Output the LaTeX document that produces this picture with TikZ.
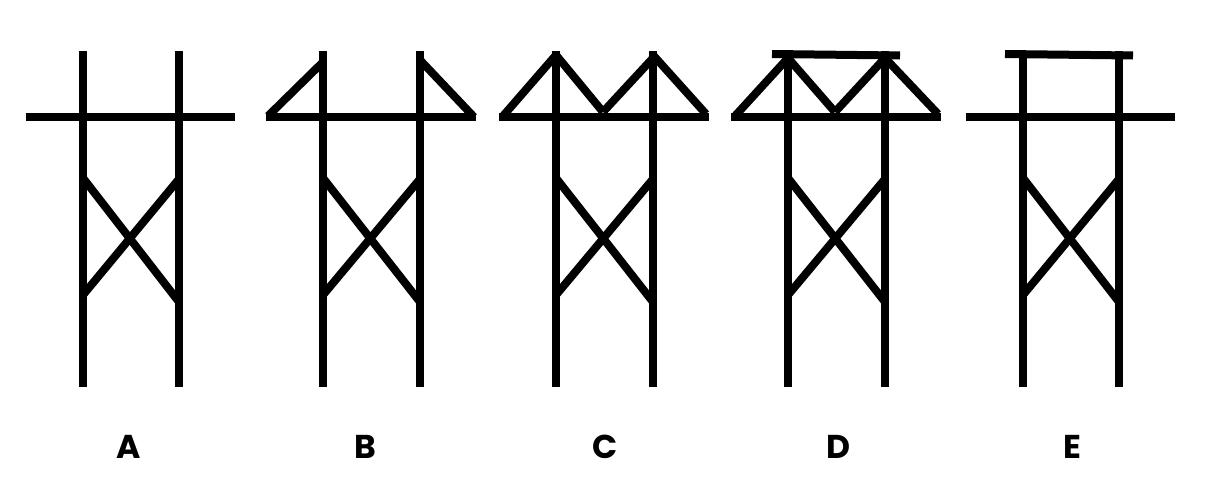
\documentclass[tikz,border=0pt]{standalone}
\usepackage{fontspec}
\setmainfont{Poppins}
\tikzset{
  beam/.style={line width=8pt,black,line cap=butt,line join=miter},
  brace/.style={line width=8pt,black,line cap=butt},
  toplabel/.style={font=\bfseries\fontsize{33}{33}\selectfont,inner sep=0pt,anchor=base}
}
\newcommand{\towerbase}[3]{%
  \draw[beam] (#1,51) -- (#1,387);
  \draw[beam] (#2,51) -- (#2,387);
  \draw[brace] (#1,178) -- (#2,302);
  \draw[brace] (#1,295) -- (#2,179);
  \draw[beam] (#1-57.5,117) -- (#2+55.5,117);
}
\begin{document}
\begin{tikzpicture}[x=1pt,y=-1pt]
\useasboundingbox (0,0) rectangle (1208,477);
\towerbase{83}{179}{A}
\towerbase{323}{420}{B}
\towerbase{556}{653}{C}
\towerbase{788}{885}{D}
\towerbase{1023}{1119}{E}
% B
\draw[brace] (268,116) -- (323,62);
\draw[brace] (420,60) -- (474,117);
% C
\draw[brace] (503,116) -- (556,55);
\draw[brace] (556,55) -- (603,112);
\draw[brace] (603,112) -- (653,58);
\draw[brace] (653,55) -- (706,114);
% D
\draw[brace] (735,116) -- (788,58);
\draw[brace] (788,58) -- (835,112);
\draw[brace] (835,112) -- (885,58);
\draw[brace] (885,58) -- (938,114);
\draw[beam] (772,54) -- (900,55.5);
% E
\draw[beam] (1005,54) -- (1133,55.5);
% labels
\node[toplabel] (la) at (128.5,458.5) {A};
\node[toplabel] (lb) at (365.5,458.5) {B};
\node[toplabel] (lc) at (605,458.5) {C};
\node[toplabel] (ld) at (838,458.5) {D};
\node[toplabel] (le) at (1072,458.5) {E};
\end{tikzpicture}
\end{document}
